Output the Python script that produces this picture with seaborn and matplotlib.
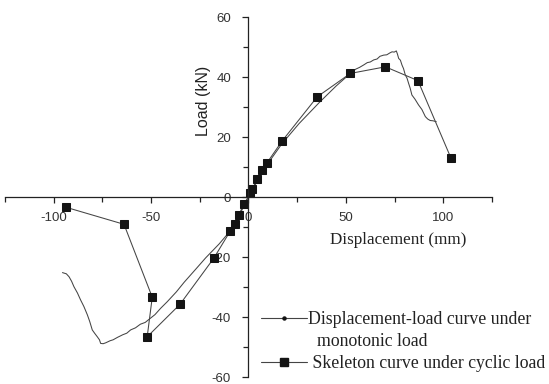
import matplotlib
matplotlib.use("Agg")
import matplotlib.pyplot as plt
from matplotlib.lines import Line2D
from matplotlib.ticker import MultipleLocator
import seaborn as sns
import pandas as pd

# Skeleton curve under cyclic load (in drawing order)
cyc_disp = [104, 87, 70.3, 52.3, 35.3, 17.3, 9.3, 7, 4.5, 1.9, 1, -2.4, -5, -7, -9.4,
            -17.8, -35.2, -52, -49.4, -63.9, -93.8]
cyc_load = [12.9, 38.8, 43.4, 41.2, 33.4, 18.7, 11.2, 8.9, 5.9, 2.7, 1.2, -2.4, -6, -8.9, -11.4,
            -20.4, -35.8, -46.6, -33.4, -9.1, -3.4]

# Displacement-load curve under monotonic load
mono_disp = [-95.5, -93.5, -92.1, -90.8, -89.6, -87.8, -86.2, -84.5, -82.7, -81.5, -80.2, -79.0,
             -77.6, -76.5, -75.9, -74.6, -73.3, -71.0, -69.5, -67.3, -64.5, -62.5, -60.5, -58.0,
             -55.5, -53.0, -51.1, -48.0, -45.1, -41.7, -37.0, -33.0, -27.0, -22.0, -15.0, -9.5,
             -5.0, -2.0, 0.0, 3.0, 7.0, 10.0, 17.0, 26.0, 36.5, 45.0, 52.3, 55.0, 57.0, 59.1,
             61.0, 62.5, 64.3, 66.0, 67.5, 69.4, 71.0, 72.5, 73.7, 74.8, 75.9, 76.5, 77.1, 78.0,
             78.8, 79.6, 80.5, 81.4, 82.2, 83.0, 83.9, 85.5, 87.3, 89.0, 90.8, 92.0, 93.3, 94.8,
             96.4]
mono_load = [-25.2, -25.6, -26.6, -28.1, -29.9, -32.0, -34.3, -36.5, -39.3, -41.5, -44.3, -45.4,
             -46.6, -47.6, -48.8, -48.9, -48.6, -47.9, -47.6, -46.8, -45.9, -45.4, -44.3, -43.6,
             -42.4, -41.8, -40.8, -39.2, -37.1, -34.9, -31.6, -28.4, -24.0, -20.3, -15.6, -11.4,
             -6.5, -2.5, 0.0, 3.5, 8.2, 11.2, 17.6, 24.5, 31.6, 37.0, 41.2, 42.6, 43.2, 44.0,
             44.8, 45.0, 45.7, 46.0, 46.9, 47.3, 47.4, 48.0, 48.4, 48.3, 48.7, 47.6, 46.2, 45.6,
             44.0, 42.8, 40.7, 39.6, 37.9, 36.3, 34.0, 32.6, 30.7, 29.2, 26.8, 26.0, 25.5, 25.4,
             25.1]

x_ticks = [-100, -50, 0, 50, 100]
y_ticks = [-60, -40, -20, 0, 20, 40, 60]

df_mono = pd.DataFrame({"disp": mono_disp, "load": mono_load})
df_cyc = pd.DataFrame({"disp": cyc_disp, "load": cyc_load})

sns.set_style("ticks")
plt.rcParams["font.family"] = ["Liberation Sans", "DejaVu Sans"]
plt.rcParams["axes.unicode_minus"] = False

fig = plt.figure(figsize=(5.49, 3.84), dpi=100)
ax = fig.add_axes([0.0091, 0.0182, 0.887, 0.9375])

line_col = "#444444"
mark_col = "#141414"

sns.lineplot(data=df_mono, x="disp", y="load", sort=False, estimator=None,
             color=line_col, linewidth=0.75, ax=ax)
sns.lineplot(data=df_cyc, x="disp", y="load", sort=False, estimator=None,
             color=line_col, linewidth=0.75, marker="s", markersize=5.6,
             markerfacecolor=mark_col, markeredgecolor=mark_col, ax=ax)

ax.set_xlim(-125, 125)
ax.set_ylim(-60, 60)
ax.set_xticks(x_ticks)
ax.set_yticks(y_ticks)
ax.xaxis.set_minor_locator(MultipleLocator(25))
ax.yaxis.set_minor_locator(MultipleLocator(10))

for side in ["top", "right"]:
    ax.spines[side].set_visible(False)
ax.spines["left"].set_position(("data", 0))
ax.spines["bottom"].set_position(("data", 0))
for side in ["left", "bottom"]:
    ax.spines[side].set_linewidth(0.9)
    ax.spines[side].set_color("#222222")

ax.tick_params(axis="both", which="major", direction="out", length=4.5, width=0.9,
               colors="#222222", labelsize=9.5, labelcolor="#333333")
ax.tick_params(axis="both", which="minor", direction="out", length=3.5, width=0.9,
               colors="#222222")
ax.tick_params(axis="x", which="major", pad=6)
ax.tick_params(axis="y", which="major", pad=8)

ax.set_xlabel("")
ax.set_ylabel("")
ax.text(0.807, 0.381, "Displacement (mm)", transform=ax.transAxes, ha="center", va="center",
        fontsize=12.3, family=["Liberation Serif", "DejaVu Serif"], color="#222222")
ax.text(0.4076, 0.767, "Load (kN)", transform=ax.transAxes, ha="center", va="center",
        rotation=90, fontsize=11.5, color="#222222")

handles = [
    Line2D([], [], color=line_col, linewidth=0.8, marker="o", markersize=2.2,
           markerfacecolor=mark_col, markeredgecolor=mark_col),
    Line2D([], [], color="none", linewidth=0),
    Line2D([], [], color=line_col, linewidth=0.8, marker="s", markersize=5.2,
           markerfacecolor=mark_col, markeredgecolor=mark_col),
]
labels = ["Displacement-load curve under", "  monotonic load", " Skeleton curve under cyclic load"]
fig.legend(handles, labels, loc="upper left", bbox_to_anchor=(0.475, 0.19),
           frameon=False, handlelength=2.6, handletextpad=0.05, labelspacing=0.28,
           borderpad=0, borderaxespad=0,
           prop={"family": ["Liberation Serif", "DejaVu Serif"], "size": 12.8},
           labelcolor="#222222")

fig.savefig("out.png", dpi=100)
